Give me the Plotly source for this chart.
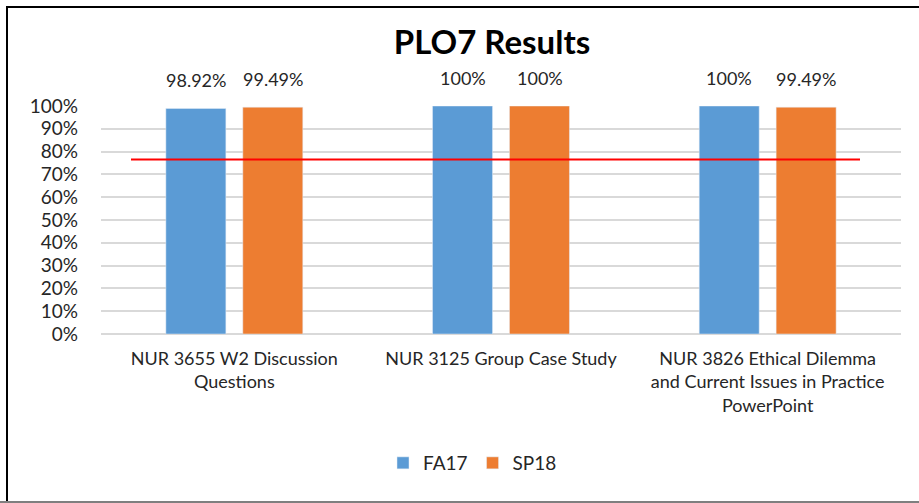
import plotly.graph_objects as go

# Chart data
categories = ["NUR 3655 W2 Discussion<br>Questions",
              "NUR 3125 Group Case Study",
              "NUR 3826 Ethical Dilemma<br>and Current Issues in Practice<br>PowerPoint"]
fa17 = [0.9892, 1.0, 1.0]
sp18 = [0.9949, 1.0, 0.9949]
fa17_labels = ["98.92%", "100%", "100%"]
sp18_labels = ["99.49%", "100%", "99.49%"]
target = 0.765

FONT = "Lato, Open Sans, sans-serif"
W, H = 919, 503
L, R, T, B = 101, 18, 106, 169
pw, ph = W - L - R, H - T - B

fig = go.Figure()
fig.add_trace(go.Bar(name="FA17", x=categories, y=fa17, marker_color="#5B9BD5"))
fig.add_trace(go.Bar(name="SP18", x=categories, y=sp18, marker_color="#ED7D31"))

# Data labels above the bars
for i, cat in enumerate(categories):
    for vals, labs, shift in [(fa17, fa17_labels, -38.5), (sp18, sp18_labels, 38.5)]:
        fig.add_annotation(x=cat, y=vals[i], text=labs[i], showarrow=False,
                           xshift=shift, yshift=15, yanchor="bottom",
                           font=dict(size=18, color="#262626", family=FONT))

# Red target line
fig.add_shape(type="line", xref="x domain", yref="y",
              x0=(131 - L) / pw, x1=(860 - L) / pw, y0=target, y1=target,
              line=dict(color="#FF0000", width=2))

# Chart border (left / top black, bottom gray)
px2x = lambda p: (p - L) / pw
py2y = lambda p: (H - B - p) / ph
fig.add_shape(type="line", xref="paper", yref="paper",
              x0=px2x(7), x1=px2x(7), y0=py2y(7), y1=py2y(503),
              line=dict(color="#000000", width=2))
fig.add_shape(type="line", xref="paper", yref="paper",
              x0=px2x(6), x1=px2x(919), y0=py2y(7), y1=py2y(7),
              line=dict(color="#000000", width=2))
fig.add_shape(type="line", xref="paper", yref="paper",
              x0=px2x(0), x1=px2x(919), y0=py2y(502), y1=py2y(502),
              line=dict(color="#7F7F7F", width=2))

fig.update_layout(
    width=W, height=H,
    margin=dict(l=L, r=R, t=T, b=B),
    paper_bgcolor="white", plot_bgcolor="white",
    font=dict(family=FONT, size=18, color="#262626"),
    title=dict(text="<b>PLO7 Results</b>", x=(492 - L) / pw, xref="paper",
               xanchor="center", y=1 - 42 / H, yanchor="middle",
               font=dict(size=33, color="#000000", family=FONT)),
    barmode="group", bargap=0.423, bargroupgap=0.22,
    showlegend=True,
    legend=dict(orientation="h", x=(383 - L) / pw, xanchor="left",
                y=py2y(463), yanchor="middle", font=dict(size=19),
                itemwidth=30, traceorder="normal"),
)
fig.update_yaxes(range=[0, 1], dtick=0.1, tickformat=".0%",
                 showgrid=True, gridcolor="#D9D9D9", gridwidth=1.5,
                 zeroline=True, zerolinecolor="#D9D9D9", zerolinewidth=1.5,
                 showline=False, ticklabelstandoff=22, tickfont=dict(size=19))
fig.update_xaxes(showgrid=False, showline=False, ticklabelstandoff=12,
                 tickfont=dict(size=18))

# drop the browser's default body margin so the figure sits at (0, 0)
fig.write_html("out.html", config={"displayModeBar": False},
               post_script="document.body.style.margin='0px';")
